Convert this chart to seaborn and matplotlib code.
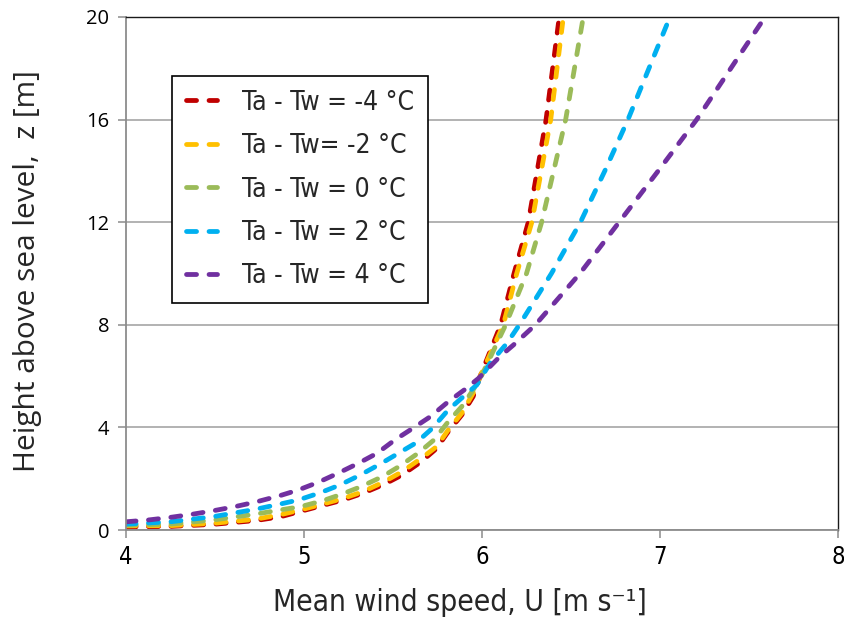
import matplotlib
matplotlib.use("Agg")
import matplotlib.pyplot as plt
from matplotlib import font_manager
from matplotlib.lines import Line2D
import seaborn as sns
import pandas as pd

# ---------------- data ----------------
labels = ["Ta - Tw = -4 \u00b0C", "Ta - Tw= -2 \u00b0C", "Ta - Tw = 0 \u00b0C",
          "Ta - Tw = 2 \u00b0C", "Ta - Tw = 4 \u00b0C"]
colors = ["#C00000", "#FFC000", "#9BBB59", "#00B0F0", "#7030A0"]

u_m4 = [4.00, 4.25, 4.49, 4.73, 4.87, 5.10, 5.22, 5.33, 5.45, 5.55, 5.66, 5.745,
        5.81, 5.886, 5.95, 5.99, 6.105, 6.18, 6.26, 6.36, 6.434]
z_m4 = [0.12, 0.14, 0.22, 0.37, 0.52, 0.95, 1.17, 1.43, 1.78, 2.14, 2.67, 3.18,
        3.83, 4.48, 5.20, 6.00, 8.0, 10.0, 12.0, 16.0, 20.0]

u_m2 = [4.00, 4.25, 4.49, 4.73, 4.87, 4.98, 5.10, 5.22, 5.33, 5.45, 5.55, 5.66,
        5.745, 5.81, 5.886, 5.95, 5.99, 6.12, 6.195, 6.28, 6.386, 6.457]
z_m2 = [0.16, 0.17, 0.26, 0.42, 0.60, 0.78, 1.00, 1.23, 1.49, 1.88, 2.27, 2.80,
        3.25, 3.90, 4.55, 5.33, 6.0, 8.0, 10.0, 12.0, 16.0, 20.0]

u_0 = [4.00, 4.25, 4.49, 4.73, 4.865, 4.98, 5.10, 5.21, 5.32, 5.44, 5.54, 5.64,
       5.73, 5.81, 5.886, 5.95, 6.00, 6.133, 6.25, 6.335, 6.47, 6.569]
z_0 = [0.19, 0.23, 0.39, 0.62, 0.78, 0.91, 1.13, 1.39, 1.69, 2.08, 2.50, 2.99,
       3.51, 4.22, 4.81, 5.46, 6.05, 8.0, 10.0, 12.0, 16.0, 20.0]

u_p2 = [4.00, 4.25, 4.49, 4.73, 4.865, 4.968, 5.09, 5.20, 5.315, 5.43, 5.53, 5.63,
        5.72, 5.81, 5.895, 5.97, 6.045, 6.14, 6.21, 6.39, 6.553, 6.69, 6.82, 7.056]
z_p2 = [0.23, 0.32, 0.52, 0.81, 1.01, 1.17, 1.45, 1.75, 2.14, 2.58, 2.99, 3.40,
        3.96, 4.68, 5.20, 5.65, 6.50, 7.28, 8.0, 10.0, 12.0, 14.0, 16.0, 20.0]

u_p4 = [4.00, 4.125, 4.247, 4.369, 4.49, 4.612, 4.734, 4.865, 4.968, 5.08, 5.19,
        5.305, 5.41, 5.51, 5.61, 5.71, 5.81, 5.90, 5.98, 6.10, 6.176, 6.30, 6.55,
        6.77, 6.99, 7.206, 7.59]
z_p4 = [0.32, 0.39, 0.49, 0.61, 0.75, 0.91, 1.10, 1.34, 1.56, 1.86, 2.21, 2.60,
        2.99, 3.51, 3.96, 4.42, 5.00, 5.46, 5.91, 6.76, 7.21, 8.0, 10.0, 12.0,
        14.0, 16.0, 20.0]

series_u = [u_m4, u_m2, u_0, u_p2, u_p4]
series_z = [z_m4, z_m2, z_0, z_p2, z_p4]

x_ticks = [4, 5, 6, 7, 8]
y_ticks = [0, 4, 8, 12, 16, 20]

# ---------------- fonts ----------------
installed = {f.name for f in font_manager.fontManager.ttflist}
if "Liberation Sans Narrow" in installed:
    narrow = {"family": "Liberation Sans Narrow"}
else:
    narrow = {"family": "DejaVu Sans", "stretch": "condensed"}
open_sans = "Open Sans" if "Open Sans" in installed else "DejaVu Sans"

sns.set_theme(style="white")
plt.rcParams["font.family"] = [open_sans, "DejaVu Sans"]

frames = []
for lab, u, z in zip(labels, series_u, series_z):
    frames.append(pd.DataFrame({"U": u, "z": z, "case": lab}))
df = pd.concat(frames, ignore_index=True)

fig = plt.figure(figsize=(8.45, 6.28), dpi=100)
ax = fig.add_axes([126 / 845, 1 - 530 / 628, 712 / 845, 513 / 628])

LW = 3.45
sns.lineplot(data=df, x="U", y="z", hue="case", hue_order=labels,
             palette=colors, sort=False, estimator=None, ax=ax, legend=False,
             linewidth=LW)

dash = (2.1, 2.6)
for line in ax.lines:
    line.set_dashes(dash)
    line.set_dash_capstyle("round")
    line.set_solid_capstyle("round")

ax.set_xlim(4, 8)
ax.set_ylim(0, 20)
ax.set_xticks(x_ticks)
ax.set_yticks(y_ticks)
ax.set_xticklabels([str(t) for t in x_ticks], fontsize=17, **narrow)
ax.set_yticklabels([str(t) for t in y_ticks], fontsize=14.5, family=open_sans)

ax.yaxis.grid(True, color="#A6A6A6", linewidth=1.2)
ax.xaxis.grid(False)
ax.set_axisbelow(True)

for side in ["left", "bottom"]:
    ax.spines[side].set_color("#8C8C8C")
    ax.spines[side].set_linewidth(1.3)
for side in ["top", "right"]:
    ax.spines[side].set_color("#1A1A1A")
    ax.spines[side].set_linewidth(1.0)

ax.tick_params(axis="both", direction="out", length=6, width=1.1,
               color="#8C8C8C", left=True, bottom=True, labelcolor="black")
ax.tick_params(axis="x", pad=5)
ax.tick_params(axis="y", pad=6)

ax.set_xlabel("Mean wind speed, U [m s\u207b\u00b9]", fontsize=21.5, **narrow)
ax.xaxis.set_label_coords((460 - 126) / 712, (530 - 588) / 513)
ax.set_ylabel("Height above sea level,  z [m]", fontsize=21.5, family=open_sans)
ax.yaxis.set_label_coords((42 - 126) / 712, (530 - 271) / 513)

handles = [Line2D([0], [0], color=c, linewidth=LW, dashes=dash,
                  dash_capstyle="round") for c in colors]
leg = ax.legend(handles, labels, loc="upper left",
                bbox_to_anchor=((172 - 126) / 712, (530 - 76) / 513),
                borderaxespad=0, frameon=True, fancybox=False, shadow=False,
                prop=font_manager.FontProperties(size=19, **narrow),
                handlelength=1.18, handletextpad=0.95, labelspacing=0.66,
                borderpad=0.52)
leg.get_frame().set_edgecolor("black")
leg.get_frame().set_linewidth(1.2)
leg.get_frame().set_facecolor("white")
leg.get_frame().set_alpha(1)

fig.savefig("out.png", dpi=100)
